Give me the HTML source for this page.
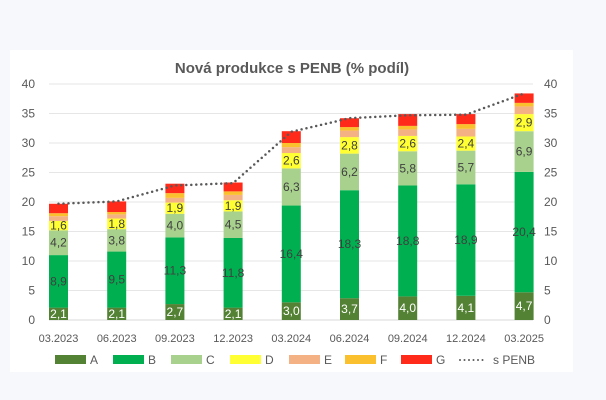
<!DOCTYPE html>
<html><head><meta charset="utf-8"><style>
body{margin:0;background:#f7f8fc;width:606px;height:400px;overflow:hidden;font-family:"Liberation Sans",sans-serif}
#card{position:absolute;left:10px;top:50px;width:563px;height:322px;background:#fff}
svg{position:absolute;left:0;top:0}
</style></head><body>
<div id="card"></div>
<svg id="chart" width="606" height="400"></svg>
<script>
const categories=["03.2023","06.2023","09.2023","12.2023","03.2024","06.2024","09.2024","12.2024","03.2025"];
const seriesA=[2.1,2.1,2.7,2.1,3.0,3.7,4.0,4.1,4.7];
const seriesB=[8.9,9.5,11.3,11.8,16.4,18.3,18.8,18.9,20.4];
const seriesC=[4.2,3.8,4.0,4.5,6.3,6.2,5.8,5.7,6.9];
const seriesD=[1.6,1.8,1.9,1.9,2.6,2.8,2.6,2.4,2.9];
const seriesE=[0.8,0.7,0.8,0.9,1.0,1.1,1.1,1.3,1.3];
const seriesF=[0.5,0.4,0.8,0.6,0.7,0.6,0.6,0.8,0.6];
const seriesG=[1.6,1.8,1.6,1.5,2.0,1.5,2.0,1.7,1.6];
const penb=[19.7,20.1,22.8,23.2,31.9,34.2,34.7,34.8,38.4];
const yTicks=[0,5,10,15,20,25,30,35,40];
const NS="http://www.w3.org/2000/svg";
const svg=document.getElementById('chart');
const y=v=>320-v*5.9;
const x=i=>58.5+i*58.2;
function mk(t,a,p){const e=document.createElementNS(NS,t);for(const k in a)e.setAttribute(k,a[k]);(p||svg).appendChild(e);return e;}
// title
const ti=mk('text',{x:292,y:73,'text-anchor':'middle','font-size':15,'font-weight':'bold',fill:'#595959'});
ti.textContent='Nová produkce s PENB (% podíl)';


yTicks.forEach(t=>{
  const g=mk('line',{x1:49,x2:533,y1:y(t),y2:y(t),stroke:t===0?'#d9d9d9':'#e6e6e6','stroke-width':1});
  
  
  const l=mk('text',{x:35,y:y(t)+4,'text-anchor':'end','font-size':12,fill:'#595959'});l.textContent=t;
  
  
  const r=mk('text',{x:544,y:y(t)+4,'text-anchor':'start','font-size':12,fill:'#595959'});r.textContent=t;
  
  
});
const series=[["A",seriesA,"#548235","#fff",true],["B",seriesB,"#00b050","#404040",true],["C",seriesC,"#a9d18e","#404040",true],["D",seriesD,"#ffff33","#404040",true],["E",seriesE,"#f4b183","",false],["F",seriesF,"#fbc02d","",false],["G",seriesG,"#ff2a1a","",false]];
categories.forEach((c,i)=>{
  let base=0;
  series.forEach(s=>{
    const v=s[1][i];
    const r=mk('rect',{x:x(i)-9.5,y:y(base+v),width:19,height:v*5.9,fill:s[2]});
    
    
    if(s[4]){
      const t=mk('text',{x:x(i),y:y(base+v/2)+4,'text-anchor':'middle','font-size':12,fill:s[3]});
      t.textContent=v.toFixed(1).replace('.',',');
      
      
    }
    base+=v;
  });
  const xl=mk('text',{x:x(i),y:342,'text-anchor':'middle','font-size':11,fill:'#595959'});
  xl.textContent=c;
  
  
});
const pl=mk('polyline',{points:penb.map((v,i)=>x(i)+','+y(v)).join(' '),fill:'none',stroke:'#595959','stroke-width':2.5,'stroke-dasharray':'0 5','stroke-linecap':'round'});


// legend
const leg=[["A","#548235",55],["B","#00b050",113],["C","#a9d18e",171],["D","#ffff33",230],["E","#f4b183",289],["F","#fbc02d",345],["G","#ff2a1a",401]];
leg.forEach(l=>{
  const r=mk('rect',{x:l[2],y:355,width:31,height:9,fill:l[1]});
  
  
  const t=mk('text',{x:l[2]+35,y:364,'font-size':12,fill:'#595959'});t.textContent=l[0];
  
  
});
const ld=mk('line',{x1:460,x2:485,y1:360,y2:360,stroke:'#595959','stroke-width':2,'stroke-dasharray':'0 4.5','stroke-linecap':'round'});


const lt=mk('text',{x:493,y:364,'font-size':12,fill:'#595959'});lt.textContent='s PENB';


</script>
</body></html>
